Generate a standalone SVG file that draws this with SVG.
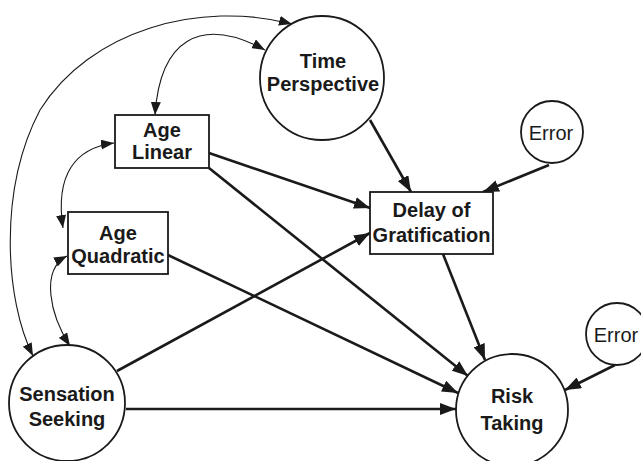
<svg xmlns="http://www.w3.org/2000/svg" width="641" height="461" viewBox="0 0 641 461">
<style>
.shape{fill:#fff;stroke:#1a1a1a;stroke-width:1.8}
.lbl{font-family:"Liberation Sans",Arial,sans-serif;font-weight:bold;font-size:20px;fill:#1a1a1a;text-anchor:middle}
.err{font-family:"Liberation Sans",Arial,sans-serif;font-size:20px;fill:#1a1a1a;text-anchor:middle}
.path{fill:none;stroke:#1a1a1a;stroke-width:2.6;marker-end:url(#ah)}
.cov{fill:none;stroke:#1a1a1a;stroke-width:1.1;marker-start:url(#th);marker-end:url(#th)}
</style>
<defs>
<marker id="ah" markerUnits="userSpaceOnUse" markerWidth="17" markerHeight="12" refX="16" refY="6" orient="auto"><path d="M0,0 L16,6 L0,12 z" fill="#1a1a1a"/></marker>
<marker id="th" markerUnits="userSpaceOnUse" markerWidth="14" markerHeight="10" refX="13" refY="5" orient="auto-start-reverse"><path d="M0,0 L13,5 L0,10 z" fill="#1a1a1a"/></marker>
</defs>
<rect width="641" height="461" fill="#fff"/>
<g id="connectors">
<path class="cov" d="M33,356 C5,300 -2,190 40,110 C90,30 200,0 292,24"/>
<path class="cov" d="M155,115 C160,40 200,15 265,50"/>
<path class="cov" d="M114,143 C75,148 55,175 63,228"/>
<path class="cov" d="M67,256 C40,270 50,315 70,346"/>
<line class="path" x1="370" y1="120" x2="411" y2="192"/>
<line class="path" x1="549" y1="165" x2="483" y2="192"/>
<line class="path" x1="209" y1="153" x2="370" y2="208"/>
<line class="path" x1="209" y1="168" x2="468" y2="376"/>
<line class="path" x1="168" y1="255" x2="458" y2="393"/>
<line class="path" x1="117" y1="371" x2="370" y2="233"/>
<line class="path" x1="126" y1="409" x2="456" y2="409"/>
<line class="path" x1="443" y1="254" x2="485" y2="360"/>
<line class="path" x1="615" y1="365" x2="565" y2="390"/>
</g>
<g id="time-perspective">
<circle class="shape" cx="322" cy="78" r="62"/>
<text class="lbl" x="323" y="68">Time</text>
<text class="lbl" x="323" y="91">Perspective</text>
</g>
<g id="age-linear">
<rect class="shape" x="115" y="115" width="94" height="53"/>
<text class="lbl" x="162" y="137">Age</text>
<text class="lbl" x="162" y="159">Linear</text>
</g>
<g id="age-quadratic">
<rect class="shape" x="68" y="212" width="100" height="62"/>
<text class="lbl" x="118" y="240">Age</text>
<text class="lbl" x="118" y="263">Quadratic</text>
</g>
<g id="delay">
<rect class="shape" x="370" y="192" width="123" height="62"/>
<text class="lbl" x="431.5" y="217">Delay of</text>
<text class="lbl" x="431.5" y="242">Gratification</text>
</g>
<g id="error1">
<circle class="shape" cx="552" cy="132" r="31"/>
<text class="err" x="551" y="140">Error</text>
</g>
<g id="sensation-seeking">
<circle class="shape" cx="67" cy="403" r="58"/>
<text class="lbl" x="67" y="401">Sensation</text>
<text class="lbl" x="67" y="426">Seeking</text>
</g>
<g id="risk-taking">
<circle class="shape" cx="512" cy="410" r="56"/>
<text class="lbl" x="512" y="403">Risk</text>
<text class="lbl" x="512" y="430">Taking</text>
</g>
<g id="error2">
<circle class="shape" cx="617" cy="334" r="31"/>
<text class="err" x="616" y="342">Error</text>
</g>
</svg>
